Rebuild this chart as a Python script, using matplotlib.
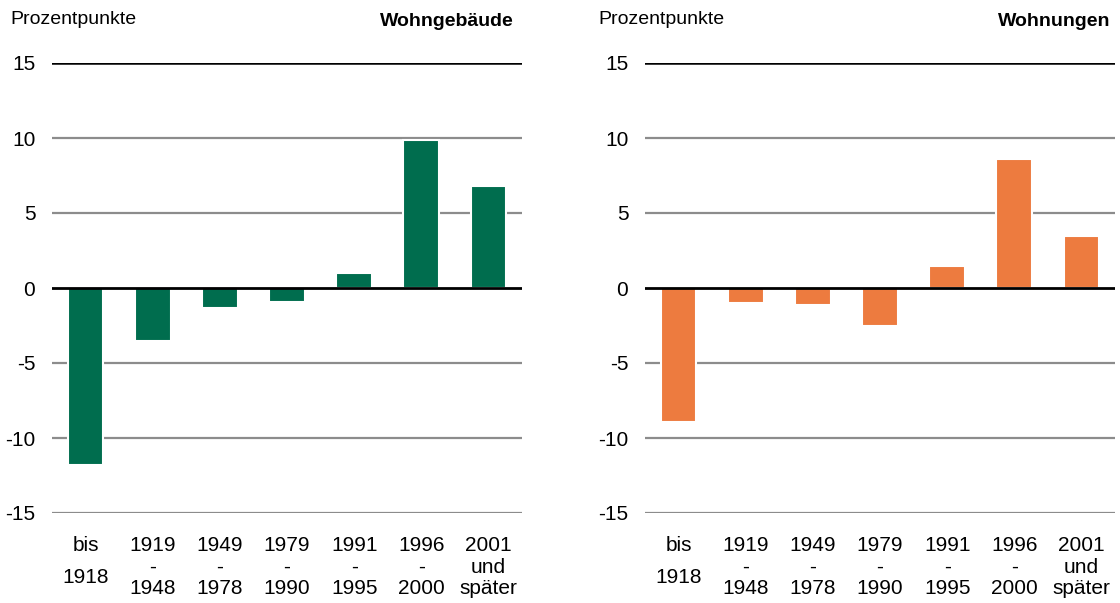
import matplotlib.pyplot as plt

plt.rcParams['font.family'] = ['Liberation Sans', 'DejaVu Sans']

# Baualtersklassen
categories = ["bis\n1918", "1919\n-\n1948", "1949\n-\n1978", "1979\n-\n1990",
              "1991\n-\n1995", "1996\n-\n2000", "2001\nund\nspäter"]

# Abweichung in Prozentpunkten
wohngebaeude = [-11.8, -3.5, -1.3, -0.9, 1.0, 9.9, 6.8]
wohnungen = [-8.9, -1.0, -1.1, -2.5, 1.5, 8.6, 3.5]

yticks = [-15, -10, -5, 0, 5, 10, 15]

green = "#006d4e"
orange = "#ed7b3f"

fig = plt.figure(figsize=(11.2, 6.03), dpi=100)

panels = [
    (wohngebaeude, green, "Wohngebäude", 52, 10, 514),
    (wohnungen, orange, "Wohnungen", 645, 598, 1110),
]

W, H = 1120, 603
for values, color, title, left_px, unit_x, title_x in panels:
    ax = fig.add_axes([left_px / W, 90 / H, 470 / W, 450 / H])
    x = range(len(categories))

    # gridlines
    for t in yticks:
        if t in (0, 15):
            continue
        ax.axhline(t, color="#8c8c8c", lw=1.6, zorder=1)
    ax.axhline(15, color="black", lw=1.8, zorder=1)

    ax.bar(x, values, width=0.53, color=color, edgecolor="white",
           linewidth=1.5, zorder=2)
    ax.axhline(0, color="black", lw=2.0, zorder=3)

    ax.set_xlim(-0.5, len(categories) - 0.5)
    ax.set_ylim(-15, 15)
    ax.set_yticks(yticks)
    ax.set_yticklabels([str(t) for t in yticks], fontsize=15)
    ax.tick_params(axis="y", length=0, pad=12)
    ax.set_xticks([])
    for s in ax.spines.values():
        s.set_visible(False)

    # category labels below the axis
    for i, lab in enumerate(categories):
        ls = 1.85 if lab.startswith("bis") else 1.17
        ax.text(i, -0.052, lab, transform=ax.get_xaxis_transform(),
                ha="center", va="top", fontsize=15, linespacing=ls)

    fig.text(unit_x / W, 1 - 20 / H, "Prozentpunkte", fontsize=14,
             ha="left", va="center")
    fig.text(title_x / W, 1 - 22 / H, title, fontsize=14, fontweight="bold",
             ha="right", va="center")

fig.savefig("out.png", dpi=100)
